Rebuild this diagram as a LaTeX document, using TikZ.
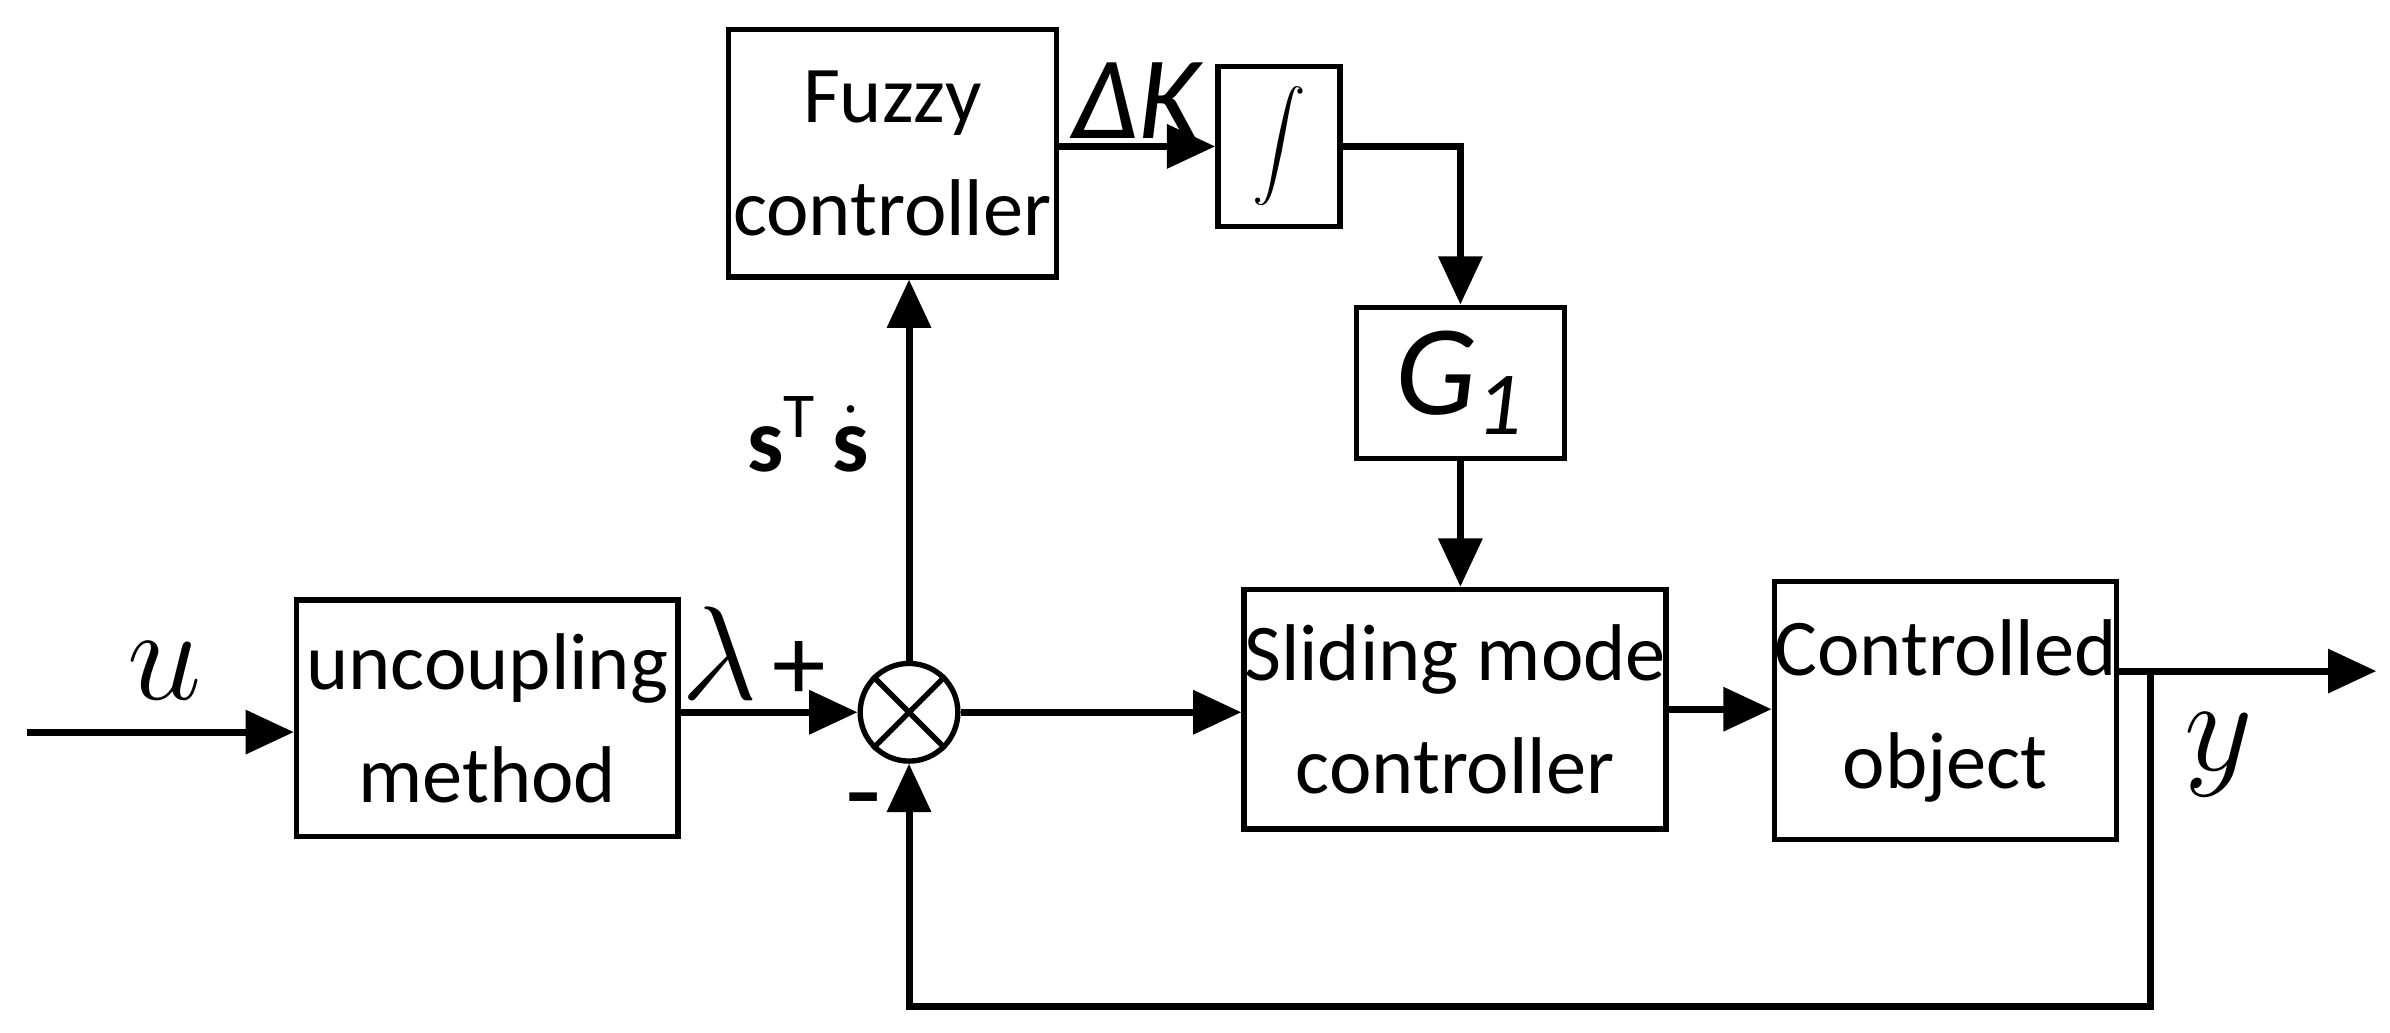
\documentclass[tikz,border=0pt]{standalone}
\usepackage{fontspec}
\setmainfont{Carlito}
\usetikzlibrary{arrows.meta}
\begin{document}
\begin{tikzpicture}[x=0.01cm,y=-0.01cm,line width=1.3pt,
  blk/.style={draw,line width=1pt,align=center,font=\fontsize{15}{18}\selectfont,inner sep=0pt},
  ar/.style={-{Triangle[length=9pt,width=8pt]}}]
\useasboundingbox (0,0) rectangle (1567,677);
\node[blk,minimum width=2.5cm,minimum height=1.55cm] (unc) at (319.5,471) {uncoupling\\[3pt]method};
\node[blk,minimum width=2.15cm,minimum height=1.62cm] (fz) at (585,100.5) {Fuzzy\\[3pt]controller};
\node[blk,minimum width=0.8cm,minimum height=1.05cm] (int) at (838.5,96) {\fontsize{22}{24}\selectfont$\displaystyle\int$};
\node[blk,minimum width=1.36cm,minimum height=0.99cm] (g1) at (957.5,251) {\fontsize{24}{26}\selectfont\itshape G\textsubscript{1}};
\node[blk,minimum width=2.38cm,minimum height=1.57cm] (smc) at (954,465) {Sliding mode\\[3pt]controller};
\node[blk,minimum width=2.16cm,minimum height=1.69cm] (co) at (1275.5,466) {Controlled\\[3pt]object};
\node[draw,circle,line width=1pt,minimum size=0.64cm,inner sep=0pt] (sum) at (596,467) {};
\draw[line width=1pt] (sum.45)--(sum.225) (sum.135)--(sum.-45);
\coordinate (in) at (18,480);
\coordinate (out) at (1558,440);
\coordinate (br) at (1410,440);
\draw[ar] (in) -- (in-|unc.west);
\draw[ar] (unc.east|-sum) -- (sum.west);
\draw[ar] (sum.east) -- (smc.west|-sum);
\draw[ar] (smc.east) -- (co.west|-smc.east);
\draw[ar] (co.east|-out) -- (out);
\draw[ar] (br) -- (1410,660) -- (596,660) -- (sum.south);
\draw[ar] (sum.north) -- (fz.south-|sum);
\draw[ar] (fz.east|-int.west) -- (int.west);
\draw[ar] (int.east) -- (int.east-|g1.north) -- (g1.north);
\draw[ar] (g1.south) -- (smc.north-|g1.south);
\node[font=\fontsize{30}{32}\selectfont] (u) at (108,440) {$u$};
\node[font=\fontsize{24}{26}\selectfont] (lam) at (472,428) {$\lambda$};
\node[font=\fontsize{20}{22}\selectfont] (pl) at (524,440) {+};
\node[font=\fontsize{22}{24}\selectfont] (mi) at (566,532) {-};
\node[font=\fontsize{17}{19}\selectfont] (st) at (530,285) {$\mathbf{s}^{\mathrm{T}}\,\dot{\mathbf{s}}$};
\node[font=\fontsize{22}{24}\selectfont\itshape] (dk) at (745,66) {ΔK};
\node[font=\fontsize{30}{32}\selectfont] (yl) at (1455,495) {$y$};
\end{tikzpicture}
\end{document}
